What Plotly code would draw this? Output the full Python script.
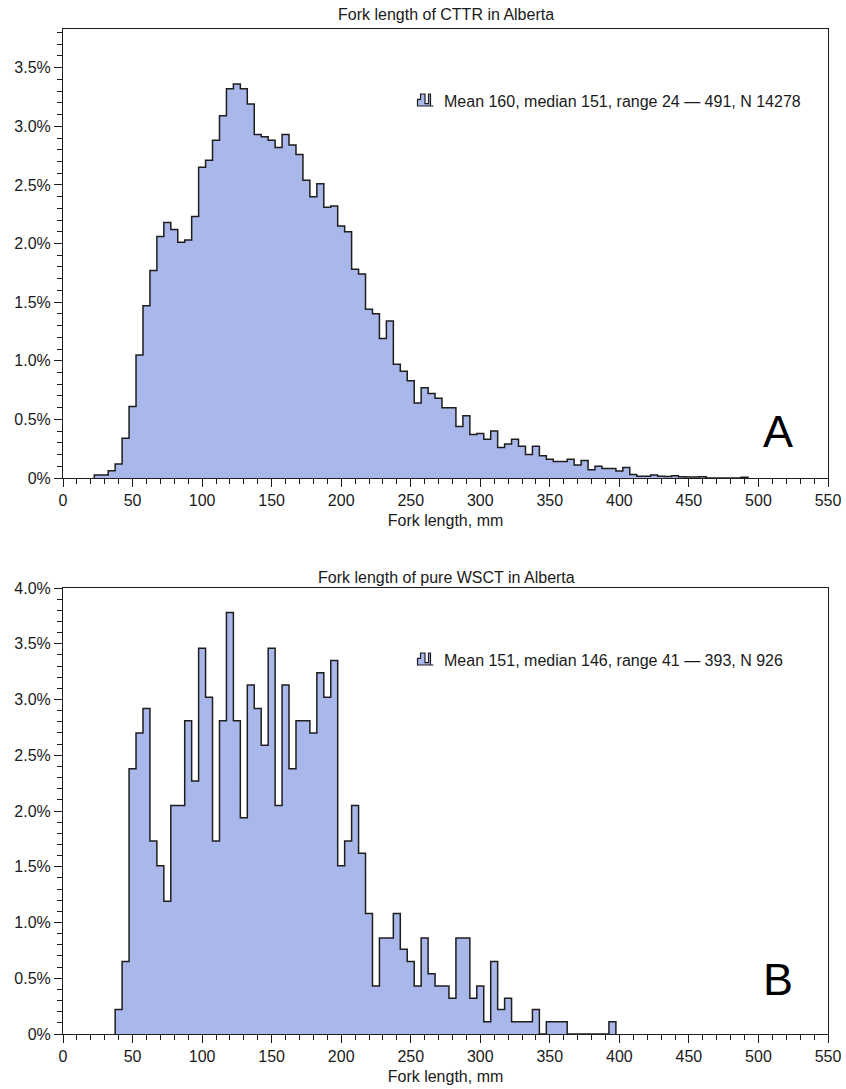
import plotly.graph_objects as go

# ---------------- data ----------------
BIN_WIDTH = 5

cttr_bin_centers = list(range(25, 495, 5))
cttr_pct = [
    0.025, 0.025, 0.062, 0.12, 0.34, 0.61, 1.05, 1.47, 1.77, 2.06,   # 25-70
    2.18, 2.12, 2.01, 2.03, 2.23, 2.65, 2.71, 2.88, 3.09, 3.32,      # 75-120
    3.36, 3.32, 3.19, 2.93, 2.91, 2.88, 2.82, 2.93, 2.84, 2.76,      # 125-170
    2.54, 2.40, 2.51, 2.31, 2.32, 2.15, 2.10, 1.78, 1.74, 1.44,      # 175-220
    1.40, 1.19, 1.34, 0.97, 0.91, 0.83, 0.64, 0.77, 0.72, 0.68,      # 225-270
    0.60, 0.60, 0.44, 0.53, 0.37, 0.38, 0.33, 0.40, 0.26, 0.29,      # 275-320
    0.33, 0.27, 0.20, 0.27, 0.19, 0.16, 0.14, 0.14, 0.16, 0.11,      # 325-370
    0.15, 0.07, 0.10, 0.08, 0.08, 0.06, 0.09, 0.03, 0.015, 0.015,    # 375-420
    0.025, 0.015, 0.012, 0.02, 0.01, 0.008, 0.008, 0.01, 0.0, 0.0,   # 425-470
    0.0, 0.0, 0.0, 0.007,                                            # 475-490
]

wsct_bin_centers = list(range(40, 400, 5))
wsct_pct = [
    0.22, 0.65, 2.38, 2.70, 2.92, 1.73, 1.51, 1.19, 2.05, 2.05,      # 40-85
    2.81, 2.27, 3.46, 3.02, 1.73, 2.81, 3.78, 2.81, 1.94, 3.13,      # 90-135
    2.92, 2.59, 3.46, 2.05, 3.13, 2.38, 2.81, 2.81, 2.70, 3.24,      # 140-185
    3.02, 3.35, 1.51, 1.73, 2.05, 1.62, 1.08, 0.43, 0.86, 0.86,      # 190-235
    1.08, 0.76, 0.65, 0.43, 0.86, 0.54, 0.43, 0.43, 0.32, 0.86,      # 240-285
    0.86, 0.32, 0.43, 0.11, 0.65, 0.22, 0.32, 0.11, 0.11, 0.11,      # 290-335
    0.22, 0.0, 0.11, 0.11, 0.11, 0.0, 0.0, 0.0, 0.0, 0.0,            # 340-385
    0.0, 0.11,                                                       # 390-395
]

titles = ["Fork length of CTTR in Alberta", "Fork length of pure WSCT in Alberta"]
stats = ["Mean 160, median 151, range 24 \u2014 491, N 14278",
         "Mean 151, median 146, range 41 \u2014 393, N 926"]
panel_letters = ["A", "B"]
x_ticks = list(range(0, 551, 50))
y_ticks_top = [0, 0.5, 1.0, 1.5, 2.0, 2.5, 3.0, 3.5]
y_ticks_bot = [0, 0.5, 1.0, 1.5, 2.0, 2.5, 3.0, 3.5, 4.0]

# ---------------- styling ----------------
FILL = "#a9b7ea"
EDGE = "#1e1e1e"
TXT = "#1a1a1a"
FONT = "Liberation Sans, Arial, Helvetica, sans-serif"

W, H = 846, 1089
ML, MR, MT, MB = 63, 18, 29, 55
PW, PH = W - ML - MR, H - MT - MB


def px_x(px):
    return (px - ML) / PW


def px_y(py):
    return (H - MB - py) / PH


def step_xy(centers, vals):
    xs = [centers[0] - BIN_WIDTH / 2]
    ys = [0]
    for c, v in zip(centers, vals):
        xs.append(c - BIN_WIDTH / 2)
        ys.append(v)
    xs.append(centers[-1] + BIN_WIDTH / 2)
    ys.append(vals[-1])
    xs.append(centers[-1] + BIN_WIDTH / 2)
    ys.append(0)
    return xs, ys


fig = go.Figure()
for i, (cent, vals) in enumerate([(cttr_bin_centers, cttr_pct), (wsct_bin_centers, wsct_pct)]):
    xs, ys = step_xy(cent, vals)
    fig.add_trace(go.Scatter(
        x=xs, y=ys, mode="lines",
        line=dict(shape="hv", color=EDGE, width=1.5),
        fill="tozeroy", fillcolor=FILL,
        xaxis="x" if i == 0 else "x2", yaxis="y" if i == 0 else "y2",
        showlegend=False, hoverinfo="skip",
    ))

tickfont = dict(size=16, color=TXT, family=FONT)


def xaxis(anchor):
    return dict(
        anchor=anchor, domain=[0, 1], range=[0, 550], automargin=False,
        tickmode="array", tickvals=x_ticks, ticktext=[str(v) for v in x_ticks],
        ticks="outside", ticklen=8, tickwidth=1, tickcolor=EDGE,
        showline=True, linecolor=EDGE, linewidth=1, mirror=True,
        showgrid=False, zeroline=False, tickfont=tickfont,
        minor=dict(ticks="outside", tickmode="linear", tick0=0, dtick=10,
                   ticklen=5, tickwidth=1, tickcolor=EDGE, showgrid=False),
        title=dict(text="Fork length, mm", font=dict(size=16, color=TXT, family=FONT), standoff=6),
    )


def yaxis(anchor, dom, rng, tv):
    return dict(
        anchor=anchor, domain=dom, range=rng, automargin=False,
        tickmode="array", tickvals=tv,
        ticktext=["0%" if v == 0 else f"{v:.1f}%" for v in tv],
        ticks="outside", ticklen=8, tickwidth=1, tickcolor=EDGE,
        showline=True, linecolor=EDGE, linewidth=1, mirror=True,
        showgrid=False, zeroline=False, tickfont=tickfont,
        minor=dict(ticks="outside", tickmode="linear", tick0=0, dtick=0.1,
                   ticklen=5, tickwidth=1, tickcolor=EDGE, showgrid=False),
    )


top_dom = [px_y(478), 1.0]
bot_dom = [0.0, px_y(588)]

fig.update_layout(
    width=W, height=H,
    margin=dict(l=ML, r=MR, t=MT, b=MB),
    paper_bgcolor="white", plot_bgcolor="white",
    font=dict(family=FONT, color=TXT),
    xaxis=xaxis("y"), yaxis=yaxis("x", top_dom, [0, 3.83], y_ticks_top),
    xaxis2=xaxis("y2"), yaxis2=yaxis("x2", bot_dom, [0, 4.0], y_ticks_bot),
    showlegend=False,
)

annotations = []
shapes = []
title_y = [15, 577]
stat_y = [101.5, 660]
icon_base = [106, 665]
letter_y = [431, 979]
for k in range(2):
    annotations.append(dict(text=titles[k], x=px_x(446), y=px_y(title_y[k]),
                            xref="paper", yref="paper", xanchor="center", yanchor="middle",
                            showarrow=False, font=dict(size=16, color=TXT, family=FONT)))
    annotations.append(dict(text=stats[k], x=px_x(442), y=px_y(stat_y[k]),
                            xref="paper", yref="paper", xanchor="left", yanchor="middle",
                            showarrow=False, font=dict(size=16, color=TXT, family=FONT)))
    annotations.append(dict(text=panel_letters[k], x=px_x(778), y=px_y(letter_y[k]),
                            xref="paper", yref="paper", xanchor="center", yanchor="middle",
                            showarrow=False, font=dict(size=45, color="black", family=FONT)))
    b = icon_base[k]
    pts = [(417.5, b), (417.5, b - 6.6), (420.5, b - 6.6), (420.5, b - 12), (425, b - 12),
           (425, b - 2.4), (428.5, b - 2.4), (428.5, b - 12), (430.5, b - 12), (430.5, b),
           (433.5, b)]
    path = "M " + " L ".join(f"{px_x(x):.5f},{px_y(y):.5f}" for x, y in pts) + " Z"
    shapes.append(dict(type="path", path=path, xref="paper", yref="paper",
                       fillcolor=FILL, line=dict(color=EDGE, width=1.2)))

fig.update_layout(annotations=annotations, shapes=shapes)

fig.write_html("out.html")
